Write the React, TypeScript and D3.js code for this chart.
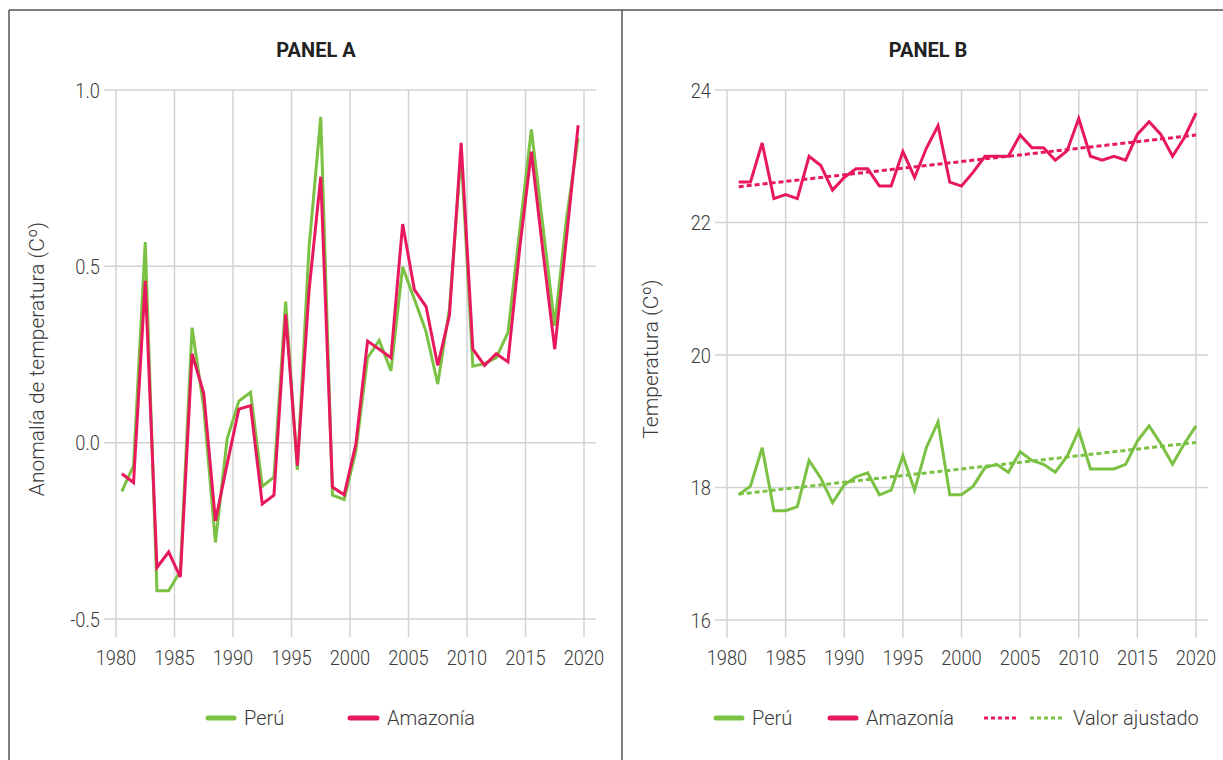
import React from 'react';
import * as d3 from 'd3';

const years = [1981, 1982, 1983, 1984, 1985, 1986, 1987, 1988, 1989, 1990,
  1991, 1992, 1993, 1994, 1995, 1996, 1997, 1998, 1999, 2000,
  2001, 2002, 2003, 2004, 2005, 2006, 2007, 2008, 2009, 2010,
  2011, 2012, 2013, 2014, 2015, 2016, 2017, 2018, 2019, 2020];

const anomPeru = [-0.138, -0.065, 0.569, -0.42, -0.42, -0.364, 0.326, 0.10, -0.283, 0.011,
  0.118, 0.143, -0.124, -0.098, 0.40, -0.077, 0.554, 0.924, -0.149, -0.161,
  -0.024, 0.241, 0.29, 0.204, 0.498, 0.407, 0.315, 0.166, 0.38, 0.82,
  0.217, 0.224, 0.241, 0.312, 0.60, 0.888, 0.61, 0.331, 0.635, 0.863];

const anomAmaz = [-0.088, -0.113, 0.459, -0.354, -0.31, -0.381, 0.252, 0.14, -0.222, -0.06,
  0.095, 0.105, -0.174, -0.149, 0.364, -0.065, 0.432, 0.754, -0.126, -0.148,
  -0.004, 0.288, 0.265, 0.241, 0.62, 0.434, 0.386, 0.219, 0.361, 0.85,
  0.265, 0.219, 0.252, 0.229, 0.55, 0.825, 0.54, 0.265, 0.58, 0.90];

const tempPeru = [17.89, 18.02, 18.60, 17.65, 17.65, 17.71, 18.41, 18.14, 17.77, 18.04,
  18.16, 18.22, 17.89, 17.96, 18.48, 17.96, 18.60, 18.99, 17.89, 17.89,
  18.02, 18.30, 18.35, 18.23, 18.54, 18.41, 18.35, 18.23, 18.47, 18.86,
  18.28, 18.28, 18.28, 18.35, 18.70, 18.93, 18.66, 18.35, 18.66, 18.93];

const tempAmaz = [22.61, 22.61, 23.20, 22.36, 22.42, 22.36, 23.00, 22.86, 22.49, 22.68,
  22.81, 22.81, 22.55, 22.55, 23.07, 22.68, 23.12, 23.46, 22.61, 22.55,
  22.76, 23.00, 23.00, 23.00, 23.32, 23.13, 23.13, 22.94, 23.08, 23.57,
  23.00, 22.94, 23.00, 22.94, 23.33, 23.52, 23.33, 23.00, 23.28, 23.65];

const trendYears = [1981, 2020];
const trendPeru = [17.90, 18.68];
const trendAmaz = [22.54, 23.32];

const xTicks = [1980, 1985, 1990, 1995, 2000, 2005, 2010, 2015, 2020];
const yTicksA = [1.0, 0.5, 0.0, -0.5];
const yTicksB = [24, 22, 20, 18, 16];

const GREEN = '#7bc143';
const RED = '#e8185d';
const GRID = '#d2d2d2';
const TXT = '#3a3a3a';
const FONT = 'Roboto, sans-serif';

function CText({ x, y, children, anchor = 'middle', size = 21, sx = 0.87 }: any) {
  return (
    <g transform={`translate(${x},${y}) scale(${sx},1)`}>
      <text textAnchor={anchor} dy="0.36em" fontSize={size} fontWeight={300} fill={TXT} fontFamily={FONT}>
        {children}
      </text>
    </g>
  );
}

function Panel({ title, titleX, x0, x1, yTop, yBot, yDomain, yTicks, fmt, axisTitle, axisX, series, trends, offset }: any) {
  const x = d3.scaleLinear().domain([1980, 2020]).range([x0, x1]);
  const y = d3.scaleLinear().domain(yDomain).range([yBot, yTop]);
  const gridL = x0 - 12;
  const gridR = x1 + 12;
  const line = d3.line<number>().x((_, i) => x(years[i] - offset)).y((d) => y(d));
  const tline = d3.line<number>().x((_, i) => x(trendYears[i])).y((d) => y(d));
  return (
    <g>
      <text x={titleX} y={50} dy="0.36em" textAnchor="middle" fontSize={20} fontWeight={700} fill="#222" fontFamily={FONT}>
        {title}
      </text>
      {xTicks.map((t) => (
        <line key={'v' + t} x1={x(t)} x2={x(t)} y1={y(yDomain[1])} y2={y(yDomain[0]) + 18} stroke={GRID} strokeWidth={1.5} />
      ))}
      {yTicks.map((t: number) => (
        <line key={'h' + t} x1={gridL} x2={gridR} y1={y(t)} y2={y(t)} stroke={GRID} strokeWidth={1.5} />
      ))}
      {yTicks.map((t: number) => (
        <CText key={'yl' + t} x={gridL - 4} y={y(t)} anchor="end">{fmt(t)}</CText>
      ))}
      {xTicks.map((t) => (
        <CText key={'xl' + t} x={x(t)} y={657}>{String(t)}</CText>
      ))}
      <text transform={`translate(${axisX},359) rotate(-90)`} textAnchor="middle" dy="0.36em" fontSize={21} fontWeight={300} fill={TXT} fontFamily={FONT}>
        {axisTitle}
      </text>
      {trends && trends.map((tr: any, i: number) => (
        <path key={'t' + i} d={tline(tr.values) || ''} fill="none" stroke={tr.color} strokeWidth={3} strokeDasharray="5 3" />
      ))}
      {series.map((s: any, i: number) => (
        <path key={'s' + i} d={line(s.values) || ''} fill="none" stroke={s.color} strokeWidth={3} strokeLinejoin="miter" />
      ))}
    </g>
  );
}

function LegendLine({ x1, x2, color, dashed }: any) {
  return (
    <line x1={x1} x2={x2} y1={718} y2={718} stroke={color} strokeWidth={dashed ? 3 : 5}
      strokeLinecap={dashed ? 'butt' : 'round'} strokeDasharray={dashed ? '4 3' : undefined} />
  );
}

function LegendText({ x, children }: any) {
  return (
    <text x={x} y={718} dy="0.36em" fontSize={20} fontWeight={300} fill={TXT} fontFamily={FONT}>{children}</text>
  );
}

export default function App() {
  return (
    <svg width={1223} height={760} style={{ position: 'absolute', left: 0, top: 0, background: '#fff' }}>
      <rect x={0} y={0} width={1223} height={760} fill="#fff" />
      <line x1={9} x2={1223} y1={10} y2={10} stroke="#555" strokeWidth={1.5} />
      <line x1={9} x2={9} y1={10} y2={760} stroke="#555" strokeWidth={1.5} />
      <line x1={622} x2={622} y1={10} y2={760} stroke="#555" strokeWidth={1.5} />

      <Panel title="PANEL A" titleX={316} x0={116} x1={584} yTop={90} yBot={619} yDomain={[-0.5, 1.0]}
        yTicks={yTicksA} fmt={(t: number) => d3.format('.1f')(t).replace('−', '-')}
        axisTitle="Anomalía de temperatura (Cº)" axisX={36} offset={0.5}
        series={[{ values: anomPeru, color: GREEN }, { values: anomAmaz, color: RED }]} />

      <Panel title="PANEL B" titleX={928} x0={727} x1={1196} yTop={90} yBot={620} yDomain={[16, 24]}
        yTicks={yTicksB} fmt={(t: number) => String(t)}
        axisTitle="Temperatura (Cº)" axisX={650} offset={0}
        trends={[{ values: trendAmaz, color: RED }, { values: trendPeru, color: GREEN }]}
        series={[{ values: tempAmaz, color: RED }, { values: tempPeru, color: GREEN }]} />

      <LegendLine x1={208} x2={234} color={GREEN} />
      <LegendText x={244}>Perú</LegendText>
      <LegendLine x1={350} x2={377} color={RED} />
      <LegendText x={387}>Amazonía</LegendText>

      <LegendLine x1={716} x2={742} color={GREEN} />
      <LegendText x={752}>Perú</LegendText>
      <LegendLine x1={830} x2={856} color={RED} />
      <LegendText x={866}>Amazonía</LegendText>
      <LegendLine x1={984} x2={1019} color={RED} dashed />
      <LegendLine x1={1030} x2={1065} color={GREEN} dashed />
      <LegendText x={1073}>Valor ajustado</LegendText>
    </svg>
  );
}
